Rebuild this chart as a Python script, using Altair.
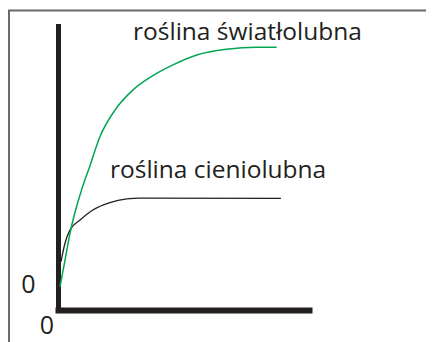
import altair as alt
import pandas as pd

# light-loving plant (green curve): light intensity vs. photosynthesis rate
x_sun = [0.8, 2.8, 4.8, 9.4, 12.7, 16.7, 22.7, 29.9, 39.3, 45.8, 55.3, 67.2, 79.2, 87.1]
y_sun = [8.2, 17.6, 27.1, 42.3, 50.7, 61.0, 70.4, 77.5, 83.3, 86.3, 89.8, 91.8, 92.5, 92.5]

# shade-loving plant (black curve)
x_shade = [1.2, 2.8, 4.8, 8.8, 13.9, 20.7, 27.4, 32.7, 88.8]
y_shade = [17.0, 23.6, 28.2, 31.7, 35.2, 37.8, 39.1, 39.4, 39.3]

series_names = ["roślina światłolubna", "roślina cieniolubna"]
label_x = [29.9, 20.7]
label_y = [95.1, 46.5]

zero_labels = ["0", "0"]

sun_df = pd.DataFrame({"x": x_sun, "y": y_sun, "order": range(len(x_sun))})
shade_df = pd.DataFrame({"x": x_shade, "y": y_shade, "order": range(len(x_shade))})
label_df = pd.DataFrame({"x": label_x, "y": label_y, "t": series_names})

xs = alt.Scale(domain=[0, 100], nice=False, zero=False)
ys = alt.Scale(domain=[0, 100], nice=False, zero=False)

FONT = "Open Sans"

axis_x = alt.Axis(domain=True, domainColor="#231f20", domainWidth=6, domainCap="square",
                  ticks=False, labels=False, grid=False, title=None)
axis_y = alt.Axis(domain=True, domainColor="#231f20", domainWidth=5, domainCap="square",
                  ticks=False, labels=False, grid=False, title=None)

one = pd.DataFrame({"a": [0]})
frame = alt.Chart(one).mark_rect(fill=None, stroke="#6a6a6a", strokeWidth=2).encode(
    x=alt.value(-49), x2=alt.value(372), y=alt.value(-15.5), y2=alt.value(320)
)

shade_line = alt.Chart(shade_df).mark_line(
    color="#231f20", strokeWidth=1.3, interpolate="monotone"
).encode(
    x=alt.X("x:Q", scale=xs, axis=axis_x),
    y=alt.Y("y:Q", scale=ys, axis=axis_y),
    order="order:Q",
)

sun_line = alt.Chart(sun_df).mark_line(
    color="#00a651", strokeWidth=1.5, interpolate="monotone"
).encode(
    x=alt.X("x:Q", scale=xs),
    y=alt.Y("y:Q", scale=ys),
    order="order:Q",
)

labels = alt.Chart(label_df).mark_text(
    align="left", baseline="alphabetic", font=FONT, fontSize=24.5, color="#231f20"
).encode(x=alt.X("x:Q", scale=xs), y=alt.Y("y:Q", scale=ys), text="t:N")

zero_y = alt.Chart(pd.DataFrame({"x": [0], "y": [0], "t": [zero_labels[0]]})).mark_text(
    align="center", baseline="alphabetic", font=FONT, fontSize=25, color="#231f20",
    dx=-29.5, dy=-17.5
).encode(x=alt.X("x:Q", scale=xs), y=alt.Y("y:Q", scale=ys), text="t:N")

zero_x = alt.Chart(pd.DataFrame({"x": [0], "y": [0], "t": [zero_labels[1]]})).mark_text(
    align="center", baseline="alphabetic", font=FONT, fontSize=25, color="#231f20",
    dx=-11, dy=24
).encode(x=alt.X("x:Q", scale=xs), y=alt.Y("y:Q", scale=ys), text="t:N")

chart = alt.layer(frame, shade_line, sun_line, labels, zero_y, zero_x).properties(
    width=251, height=284,
    autosize=alt.AutoSizeParams(type="none"),
    padding={"left": 50, "top": 18, "right": 117, "bottom": 32},
    background="white",
).configure_view(stroke=None)

chart.save("out.html", embed_options={"renderer": "svg", "actions": False})
